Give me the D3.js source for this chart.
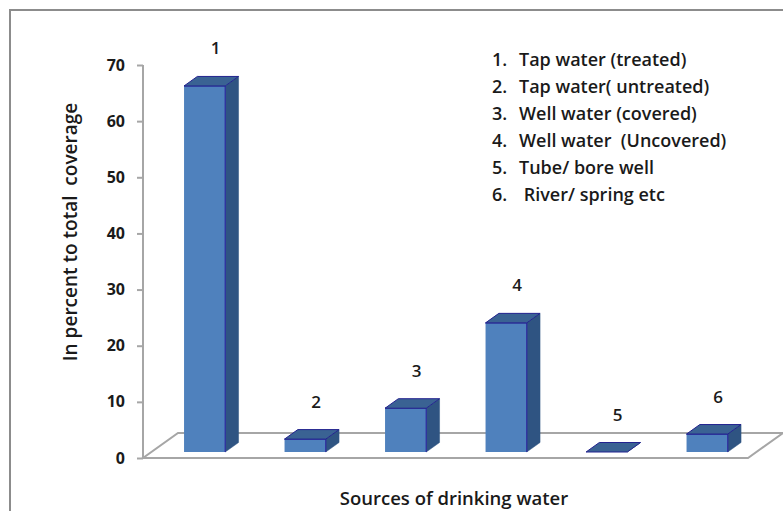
<!DOCTYPE html>
<html>
<head>
<meta charset="utf-8">
<script src="https://cdn.jsdelivr.net/npm/d3@7"></script>
<style>
  html, body { margin: 0; padding: 0; background: #ffffff; }
  svg { display: block; }
  text { font-family: "Open Sans", Lato, sans-serif; fill: #1a1a1a; }
</style>
</head>
<body>
<svg id="chart" width="783" height="511"></svg>
<script>
// Share of households by source of drinking water (percent of total coverage)
const categories = ["1", "2", "3", "4", "5", "6"];
const values = [65.2, 2.3, 7.8, 23.0, 0, 3.2];
const legendItems = [
  "Tap water (treated)",
  "Tap water( untreated)",
  "Well water (covered)",
  "Well water  (Uncovered)",
  "Tube/ bore well",
  " River/ spring etc"
];
const yTicks = [0, 10, 20, 30, 40, 50, 60, 70];

const svg = d3.select("#chart");
const W = 783, H = 511;

// outer frame
svg.append("rect").attr("x", 0).attr("y", 0).attr("width", W).attr("height", H).attr("fill", "#fff");
svg.append("rect").attr("x", 10).attr("y", 10).attr("width", 800).attr("height", 540)
  .attr("fill", "#fff").attr("stroke", "#8c8c8c").attr("stroke-width", 2);

// scales (front plane of the floor)
const y = d3.scaleLinear().domain([0, 70]).range([458, 65]);
const x = d3.scaleBand().domain(categories).range([146, 749])
  .paddingInner(0.59).paddingOuter(0.295);

// oblique depth of the 3-D floor
const depth = { dx: 35, dy: -25 };
const frontFrac = 0.24, backFrac = 0.62;
const fx = depth.dx * frontFrac, fy = depth.dy * frontFrac;
const bx = depth.dx * backFrac, by = depth.dy * backFrac;

const floorLeft = 143, floorRight = 748, y0 = y(0);

// floor
svg.append("polygon")
  .attr("points", [
    [floorLeft, y0], [floorRight, y0],
    [floorRight + depth.dx, y0 + depth.dy], [floorLeft + depth.dx, y0 + depth.dy]
  ].map(p => p.join(",")).join(" "))
  .attr("fill", "#fff").attr("stroke", "#a6a6a6").attr("stroke-width", 2);

// value axis
const axis = svg.append("g").attr("transform", `translate(${floorLeft},0)`)
  .call(d3.axisLeft(y).tickValues(yTicks).tickSize(6).tickPadding(12).tickFormat(d3.format("d")));
axis.select(".domain").attr("stroke", "#a6a6a6").attr("stroke-width", 2).attr("d", `M0,${y(70)}V${y0}`);
axis.selectAll(".tick line").attr("stroke", "#a6a6a6").attr("stroke-width", 2);
axis.selectAll(".tick text").attr("font-size", 16).attr("font-weight", 700)
  .style("font-family", "'Open Sans', sans-serif").attr("fill", "#1a1a1a");

// bars
const bw = x.bandwidth();
const bars = svg.append("g").selectAll("g").data(categories).join("g");
bars.each(function (c, i) {
  const g = d3.select(this);
  const xl = x(c) + fx, xr = xl + bw;
  const yt = y(values[i]) + fy, yb = y0 + fy;
  const ddx = bx - fx, ddy = by - fy;
  const pts = a => a.map(p => p.join(",")).join(" ");
  // side face
  g.append("polygon")
    .attr("points", pts([[xr, yt], [xr + ddx, yt + ddy], [xr + ddx, yb + ddy], [xr, yb]]))
    .attr("fill", "#2f5482").attr("stroke", "#2f5482").attr("stroke-width", 0.5);
  // front face
  if (yb - yt > 0.5) {
    g.append("rect").attr("x", xl).attr("y", yt).attr("width", bw).attr("height", yb - yt)
      .attr("fill", "#4f81bd");
    g.append("path").attr("d", `M${xl},${yt}H${xr}V${yb}`)
      .attr("fill", "none").attr("stroke", "#2e2e9e").attr("stroke-width", 1.3);
  }
  // top face
  g.append("polygon")
    .attr("points", pts([[xl, yt], [xr, yt], [xr + ddx, yt + ddy], [xl + ddx, yt + ddy]]))
    .attr("fill", "#3a6293").attr("stroke", "#23238f").attr("stroke-width", 1);
  // category number above the bar
  g.append("text")
    .attr("x", xl + bw / 2 + 11).attr("y", yt + ddy - 22)
    .attr("text-anchor", "middle").attr("font-size", 17).attr("font-weight", 600)
    .text(c);
});

// legend
const legend = svg.append("g");
legendItems.forEach((t, i) => {
  const yy = 66 + i * 27;
  legend.append("text").attr("x", 492).attr("y", yy).attr("font-size", 18).attr("font-weight", 600).text(`${i + 1}.`);
  legend.append("text").attr("x", 519).attr("y", yy).attr("font-size", 18).attr("font-weight", 600)
    .style("white-space", "pre").text(t);
});

// axis titles
svg.append("text")
  .attr("transform", "translate(77,232) rotate(-90)")
  .attr("text-anchor", "middle").attr("font-size", 19).attr("font-weight", 600)
  .style("white-space", "pre")
  .text("In percent to total  coverage");

svg.append("text")
  .attr("x", 454).attr("y", 505).attr("text-anchor", "middle")
  .attr("font-size", 18.5).attr("font-weight", 600)
  .text("Sources of drinking water");
</script>
</body>
</html>
